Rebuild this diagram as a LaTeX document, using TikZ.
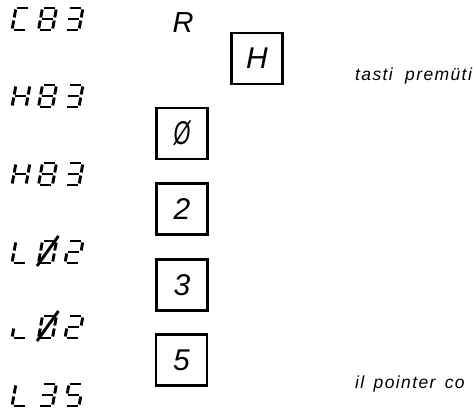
\documentclass[tikz,border=0pt]{standalone}
\usepackage{fontspec}
\setmainfont{Liberation Sans}
\begin{document}
\begin{tikzpicture}[x=1pt,y=-1pt,
  seg/.style={line width=2.9pt,line cap=butt},
  keybox/.style={draw,line width=2.4pt,minimum width=51pt,minimum height=51pt,inner sep=0pt,
    font=\fontsize{30}{30}\selectfont\itshape},
  bigletter/.style={font=\fontsize{29}{29}\selectfont\itshape,inner sep=0pt},
  note/.style={font=\fontsize{17.5}{17.5}\selectfont\itshape\addfontfeature{LetterSpace=8},inner sep=0pt,anchor=base west}]
\useasboundingbox (0,0) rectangle (473,409);
% segment geometry (slanted), origin at bottom-left, y up = negative
\def\sga{(5.46,-22)--(16.46,-22)}
\def\sgb{(17.69,-20.5)--(16.25,-12.5)}
\def\sgc{(15.71,-9.5)--(14.27,-1.5)}
\def\sgd{(1.5,0)--(12.5,0)}
\def\sge{(0.27,-1.5)--(1.71,-9.5)}
\def\sgf{(2.25,-12.5)--(3.69,-20.5)}
\def\sgg{(3.48,-11)--(14.48,-11)}
\def\sgs{(-1.5,3)--(20,-27)}
\newcommand\segdigit[3]{%
  \begin{scope}[shift={(#1,#2)}]
  \foreach \s in {#3}{\edef\tmp{\noexpand\draw[seg] \csname sg\s\endcsname;}\tmp}
  \end{scope}}
% row 1: C83
\segdigit{12}{30}{a,f,e,d}
\segdigit{38.5}{30}{a,b,c,d,e,f,g}
\segdigit{65}{30}{a,b,g,c,d}
% row 2: H83
\segdigit{12}{107}{b,c,e,f,g}
\segdigit{38.5}{107}{a,b,c,d,e,f,g}
\segdigit{65}{107}{a,b,g,c,d}
% row 3: H83
\segdigit{12}{185}{b,c,e,f,g}
\segdigit{38.5}{185}{a,b,c,d,e,f,g}
\segdigit{65}{185}{a,b,g,c,d}
% row 4: L02 (slashed 0)
\segdigit{12}{263}{f,e,d}
\segdigit{38.5}{263}{a,b,c,d,e,f,s}
\segdigit{65}{263}{a,b,g,e,d}
% row 5: L02 (slashed 0)
\segdigit{12}{338}{e,d}
\segdigit{38.5}{338}{a,b,c,d,e,f,s}
\segdigit{65}{338}{a,b,g,e,d}
% row 6: L35
\segdigit{12}{406}{f,e,d}
\segdigit{38.5}{406}{a,b,g,c,d}
\segdigit{65}{406}{a,f,g,c,d}
% keys
\node[bigletter,anchor=base] (r) at (183,33) {R};
\node[keybox] (kh) at (257,58.5) {H};
\node[keybox] (k0) at (182,133.5) {\scalebox{0.72}[1.1]{Ø}};
\node[keybox] (k2) at (182,209) {2};
\node[keybox] (k3) at (182,285) {3};
\node[keybox] (k5) at (181.5,360) {5};
% notes
\node[note] (t1) at (355,81) {tasti\hspace{6pt} premüti};
\node[note] (t2) at (355,388) {il\hspace{3pt} pointer\hspace{3pt} co};
\end{tikzpicture}
\end{document}
